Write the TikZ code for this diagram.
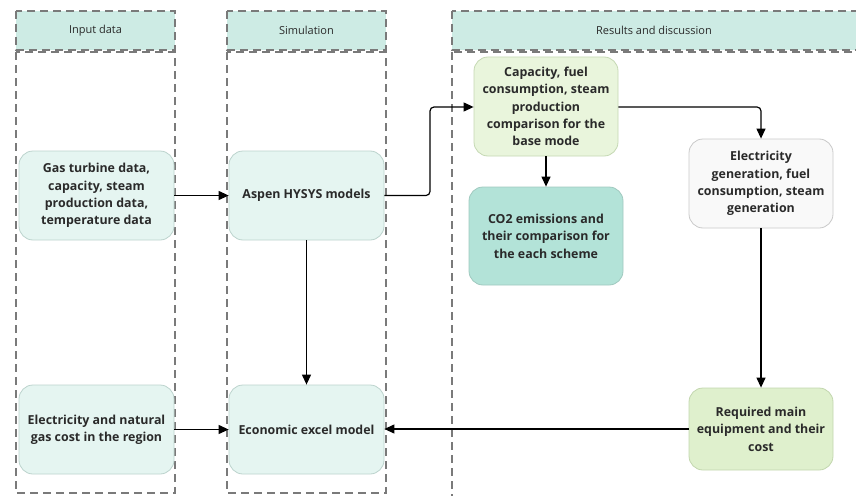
\documentclass[tikz,border=0pt]{standalone}
\usepackage{fontspec}
\setmainfont{Open Sans}
\usetikzlibrary{arrows.meta}
\definecolor{hdr}{HTML}{CDEBE4}
\definecolor{lanec}{HTML}{7A7A7A}
\definecolor{boxa}{HTML}{E5F5F1}
\definecolor{boxab}{HTML}{BCD3CD}
\definecolor{boxg}{HTML}{E9F5DC}
\definecolor{boxgb}{HTML}{C5D8B3}
\definecolor{boxt}{HTML}{B3E3D8}
\definecolor{boxtb}{HTML}{A0C9BF}
\definecolor{boxw}{HTML}{F9F9F9}
\definecolor{boxwb}{HTML}{C9C9C9}
\definecolor{boxr}{HTML}{DFF0CD}
\definecolor{boxrb}{HTML}{C2D6AE}
\definecolor{txt}{HTML}{2A2A2A}
\tikzset{
  x=1pt, y=-1pt,
  lanebox/.style={draw=lanec, line width=1.6pt, dash pattern=on 8pt off 5pt},
  hdrbox/.style={lanebox, fill=hdr},
  hdrtext/.style={font=\fontsize{11}{13}\selectfont, text=txt},
  proc/.style={draw=#1, rounded corners=14pt, line width=0.8pt, align=center,
    font=\fontsize{12.4}{17.4}\selectfont\bfseries, text=txt, inner sep=0pt},
  conn/.style={line width=1.2pt, -{Triangle[length=10pt,width=9pt]}, rounded corners=4pt},
}
\begin{document}
\begin{tikzpicture}
\useasboundingbox (0,0) rectangle (856,495);
% lanes
\draw[hdrbox] (16,11) rectangle (175,50);
\node[hdrtext] (h1) at (95.5,30.5) {Input data};
\draw[lanebox] (16,52) rectangle (175,493);
\draw[hdrbox] (227,11) rectangle (386,50);
\node[hdrtext] (h2) at (306.5,30.5) {Simulation};
\draw[lanebox] (227,52) rectangle (386,493);
\draw[hdrbox] (452,11) rectangle (870,50);
\node[hdrtext] (h3) at (654,30.5) {Results and discussion};
\draw[lanebox] (452,52) rectangle (870,510);
% boxes
\node[proc=boxab, fill=boxa, minimum width=155pt, minimum height=89pt] (gas) at (96.5,195.5)
  {Gas turbine data,\\capacity, steam\\production data,\\temperature data};
\node[proc=boxab, fill=boxa, minimum width=155pt, minimum height=89pt] (asp) at (306.5,195.5)
  {Aspen HYSYS models};
\node[proc=boxgb, fill=boxg, minimum width=144pt, minimum height=99pt] (cap) at (546,106.5)
  {Capacity, fuel\\consumption, steam\\production\\comparison for the\\base mode};
\node[proc=boxtb, fill=boxt, minimum width=154pt, minimum height=98pt] (co2) at (546,236)
  {CO2 emissions and\\their comparison for\\the each scheme};
\node[proc=boxwb, fill=boxw, minimum width=144pt, minimum height=89pt] (elg) at (761,183.5)
  {Electricity\\generation, fuel\\consumption, steam\\generation};
\node[proc=boxrb, fill=boxr, minimum width=144pt, minimum height=82pt] (req) at (761,429)
  {Required main\\equipment and their\\cost};
\node[proc=boxab, fill=boxa, minimum width=155pt, minimum height=89pt] (elc) at (96.5,429.5)
  {Electricity and natural\\gas cost in the region};
\node[proc=boxab, fill=boxa, minimum width=155pt, minimum height=89pt] (eco) at (306.5,429.5)
  {Economic excel model};
% connectors
\draw[conn] (gas.east) -- (asp.west);
\draw[conn] (asp.east) -- (430,195.5) -- (430,107) -- (cap.west |- 0,107);
\draw[conn] (cap.south) -- (co2.north);
\draw[conn] (cap.east |- 0,107) -- (elg.north |- 0,107) -- (elg.north);
\draw[conn] (elg.south) -- (req.north);
\draw[conn] (asp.south) -- (eco.north);
\draw[conn] (elc.east) -- (eco.east -| eco.west);
\draw[conn] (req.west) -- (eco.east |- req.west);
\end{tikzpicture}
\end{document}
